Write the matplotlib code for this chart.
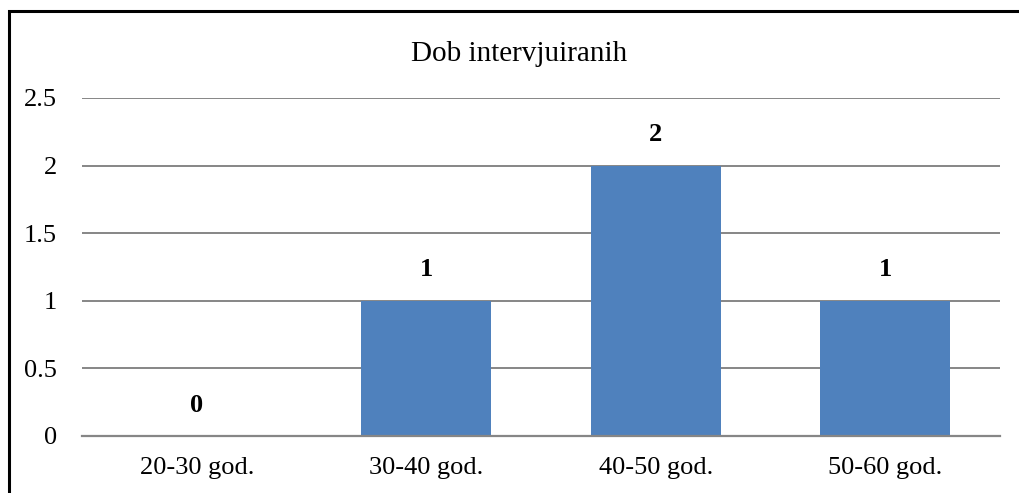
import matplotlib.pyplot as plt
from matplotlib.patches import Rectangle

categories = ['20-30 god.', '30-40 god.', '40-50 god.', '50-60 god.']
counts = [0, 1, 2, 1]
y_ticks = [0, 0.5, 1, 1.5, 2, 2.5]
y_tick_labels = ['0', '0.5', '1', '1.5', '2', '2.5']

plt.rcParams['font.family'] = ['Liberation Serif', 'DejaVu Serif']

fig = plt.figure(figsize=(10.19, 4.93), dpi=100)
ax = fig.add_axes([82 / 1019, 1 - 436 / 493, 918 / 1019, 338 / 493])

x = list(range(len(categories)))
bars = ax.bar(x, counts, width=0.567, color='#4F81BD', zorder=3)

ax.set_xlim(-0.5, len(categories) - 0.5)
ax.set_ylim(0, 2.5)
ax.set_yticks(y_ticks)
ax.set_yticklabels(y_tick_labels)
ax.set_xticks(x)
ax.set_xticklabels(categories)
ax.tick_params(axis='both', length=0, labelsize=19)
ax.tick_params(axis='y', pad=18)
ax.tick_params(axis='x', pad=15)
ax.grid(axis='y', color='#868686', linewidth=1.4, zorder=0)
for s in ['top', 'right', 'left']:
    ax.spines[s].set_visible(False)
ax.spines['bottom'].set_color('#868686')
ax.spines['bottom'].set_linewidth(1.6)
ax.spines['bottom'].set_zorder(4)

for xi, v in zip(x, counts):
    ax.annotate(str(v), (xi, v), xytext=(0, 14), textcoords='offset points',
                ha='center', va='bottom', fontsize=19, fontweight='bold')

fig.text(519 / 1019, 1 - 54 / 493, 'Dob intervjuiranih', ha='center', va='center', fontsize=21)

fig.patches.append(Rectangle((9 / 1019, -0.1), 1.2, 1 - 11 / 493 + 0.1,
                             transform=fig.transFigure, fill=False,
                             edgecolor='black', linewidth=2.2))

fig.savefig('out.png', dpi=100)
